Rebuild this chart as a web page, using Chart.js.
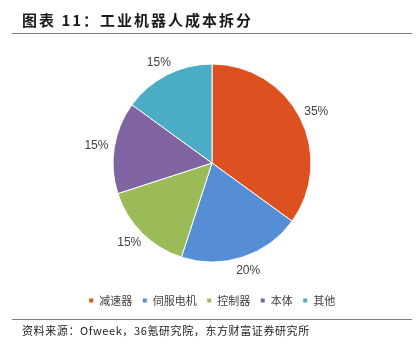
<!DOCTYPE html>
<html>
<head>
<meta charset="utf-8">
<script src="https://cdn.jsdelivr.net/npm/chart.js@4"></script>
<style>
  html, body { margin: 0; padding: 0; background: #fff; }
  #wrap { position: relative; width: 419px; height: 354px; overflow: hidden; }
  #title { position: absolute; left: 22px; top: 10px; font: bold 15px "Noto Sans CJK SC", sans-serif; letter-spacing: 2px; color: #1a1a1a; line-height: 20px; white-space: nowrap; }
  .rule { position: absolute; left: 12px; width: 400px; height: 0; border-top: 1.5px solid #7f7f7f; }
  #source { position: absolute; left: 22px; top: 322px; font: 11px "Noto Sans CJK SC", sans-serif; letter-spacing: 0.6px; color: #1a1a1a; line-height: 16px; white-space: nowrap; }
  #chart { position: absolute; left: 0; top: 0; }
</style>
</head>
<body>
<div id="wrap">
  <canvas id="chart" width="419" height="354"></canvas>
  <div id="title">图表 11：工业机器人成本拆分</div>
  <div class="rule" style="top:33px"></div>
  <div class="rule" style="top:319px"></div>
  <div id="source">资料来源：Ofweek，36氪研究院，东方财富证券研究所</div>
</div>
<script>
const categories = ['减速器', '伺服电机', '控制器', '本体', '其他'];
const shares = [35, 20, 15, 15, 15];
const sliceColors = ['#DD5020', '#558ED5', '#9BBB59', '#8064A2', '#4BACC6'];

// percent labels placed just outside each slice, the text box pushed off the rim
const outsideLabels = {
    id: 'outsideLabels',
    afterDatasetsDraw(chart) {
        const ctx = chart.ctx;
        const meta = chart.getDatasetMeta(0);
        ctx.save();
        ctx.font = '12px "Liberation Sans", Arial, sans-serif';
        ctx.fillStyle = '#404040';
        ctx.textAlign = 'center';
        ctx.textBaseline = 'middle';
        meta.data.forEach(function (arc, i) {
            const p = arc.getProps(['x', 'y', 'startAngle', 'endAngle', 'outerRadius'], true);
            const mid = (p.startAngle + p.endAngle) / 2;
            const ux = Math.cos(mid), uy = Math.sin(mid);
            const r = p.outerRadius + 8;
            ctx.fillText(shares[i] + '%', p.x + ux * r + ux * 10, p.y + uy * r + uy * 6);
        });
        ctx.restore();
    }
};

new Chart(document.getElementById('chart'), {
    type: 'pie',
    data: {
        labels: categories,
        datasets: [{
            data: shares,
            backgroundColor: sliceColors,
            borderColor: '#FFFFFF',
            borderWidth: 1,
        }],
    },
    options: {
        responsive: false,
        animation: false,
        radius: 99,
        layout: { padding: { top: 41, bottom: 38, left: 5, right: 0 } },
        plugins: {
            legend: {
                position: 'bottom',
                labels: {
                    boxWidth: 5,
                    boxHeight: 5,
                    padding: 10,
                    color: '#404040',
                    font: { family: '"Noto Sans CJK SC", sans-serif', size: 11 },
                },
            },
            tooltip: { enabled: false },
        },
    },
    plugins: [outsideLabels],
});
</script>
</body>
</html>
